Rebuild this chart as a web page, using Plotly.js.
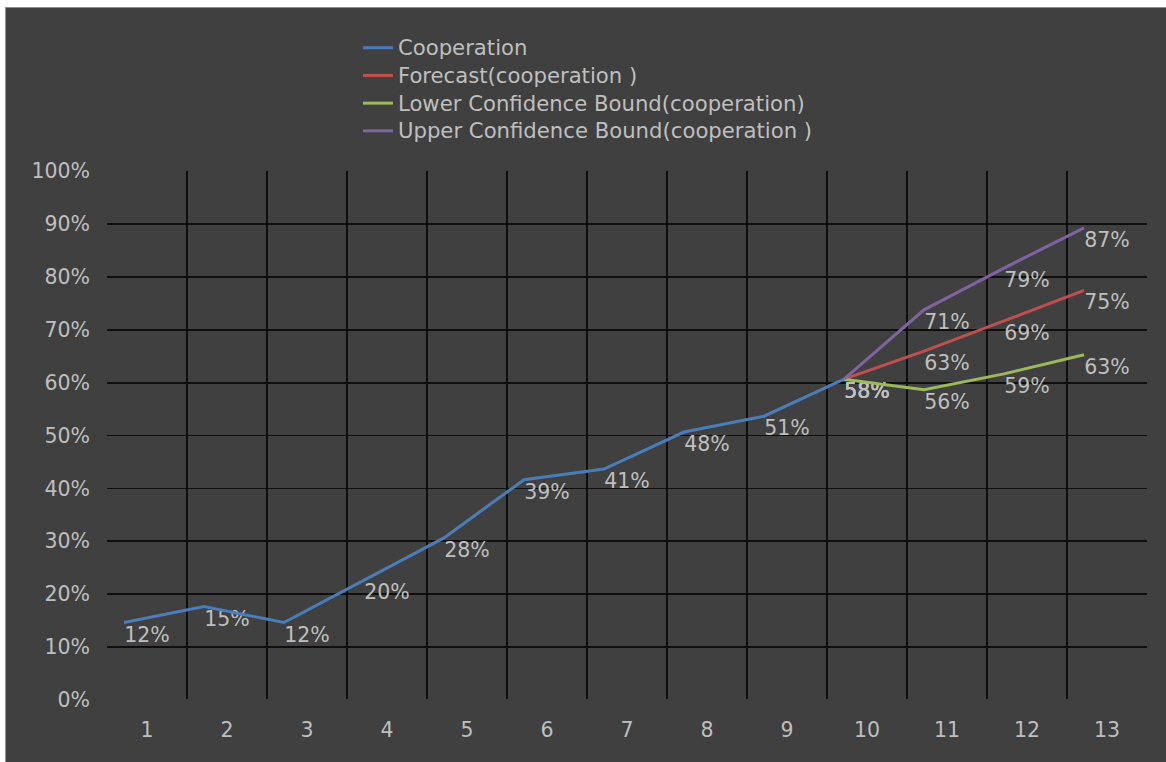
<!DOCTYPE html>
<html>
<head>
<meta charset="utf-8">
<script src="https://cdn.plot.ly/plotly-3.0.1.min.js"></script>
<style>
  html, body { margin: 0; padding: 0; background: #ffffff; }
  #frame { position: absolute; left: 5px; top: 7px; width: 1161px; height: 755px;
           border-left: 1px solid #8c8c8c; border-top: 1px solid #8c8c8c; background: #404040; }
  #chart { position: absolute; left: 0; top: 0; width: 1160px; height: 754px; }
</style>
</head>
<body>
<div id="frame"><div id="chart"></div></div>
<script>
// ---- data ----
const categories = [1, 2, 3, 4, 5, 6, 7, 8, 9, 10, 11, 12, 13];
const cooperation = [0.12, 0.15, 0.12, 0.20, 0.28, 0.39, 0.41, 0.48, 0.51, 0.58, null, null, null];
const forecast    = [null, null, null, null, null, null, null, null, null, 0.58, 0.633, 0.69, 0.748];
const lowerBound  = [null, null, null, null, null, null, null, null, null, 0.58, 0.56, 0.59, 0.626];
const upperBound  = [null, null, null, null, null, null, null, null, null, 0.58, 0.711, 0.79, 0.866];
const seriesNames = ['Cooperation', 'Forecast(cooperation )', 'Lower Confidence Bound(cooperation)', 'Upper Confidence Bound(cooperation )'];
const yTickVals = [0, 0.1, 0.2, 0.3, 0.4, 0.5, 0.6, 0.7, 0.8, 0.9, 1.0];
const yTickText = ['\u2007\u20070%', '\u200710%', '\u200720%', '\u200730%', '\u200740%', '\u200750%',
                   '\u200760%', '\u200770%', '\u200780%', '\u200790%', '100%'];
const xGridVals = [1.5, 2.5, 3.5, 4.5, 5.5, 6.5, 7.5, 8.5, 9.5, 10.5, 11.5, 12.5];

const colors = ['#4a7ebb', '#c0504d', '#9bbb59', '#8064a2'];
const textColor = '#bfbfbf';
const fontFamily = 'DejaVu Sans, Liberation Sans, Arial, sans-serif';

const allSeries = [cooperation, forecast, lowerBound, upperBound];

const traces = [];
// lines (drawn on the overlay axes, which are offset like the original)
allSeries.forEach((s, i) => {
  traces.push({
    x: categories, y: s, name: '<span style="font-size:21.2px">' + seriesNames[i] + '</span>',
    type: 'scatter', mode: 'lines',
    xaxis: 'x2', yaxis: 'y2',
    line: { color: colors[i], width: 3 },
    connectgaps: false, hoverinfo: 'skip'
  });
});
// data labels (centered on the values on the main axes)
allSeries.forEach((s, i) => {
  traces.push({
    x: categories, y: s, type: 'scatter', mode: 'text',
    texttemplate: '%{y:.0%}', textposition: 'middle center',
    textfont: { color: textColor, size: 20.5, family: fontFamily },
    showlegend: false, hoverinfo: 'skip'
  });
});

const layout = {
  width: 1160, height: 754,
  paper_bgcolor: '#404040', plot_bgcolor: '#404040',
  margin: { l: 101, r: 19, t: 163, b: 62, autoexpand: false },
  font: { family: fontFamily, color: textColor, size: 20.5 },
  showlegend: true,
  legend: {
    xref: 'container', yref: 'container',
    x: 0.3034, y: 0.9723, xanchor: 'left', yanchor: 'top',
    bgcolor: 'rgba(0,0,0,0)', font: { size: 19, color: textColor, family: fontFamily }
  },
  xaxis: {
    range: [0.5, 13.5], tickmode: 'array', tickvals: categories, ticktext: categories.map(String),
    showgrid: false, zeroline: false, showline: false, ticks: '',
    ticklabelstandoff: 15,
    minor: { tickmode: 'array', tickvals: xGridVals, showgrid: true, gridcolor: '#0f0f0f', gridwidth: 1.8, ticks: '' }
  },
  yaxis: {
    range: [0, 1], tickmode: 'array', tickvals: yTickVals, ticktext: yTickText,
    showgrid: true, gridcolor: '#0f0f0f', gridwidth: 1.8,
    zeroline: true, zerolinecolor: '#404040', zerolinewidth: 2,
    showline: false, ticks: '', ticklabelstandoff: 16
  },
  xaxis2: { overlaying: 'x', anchor: 'y2', range: [0.7875, 13.7875], visible: false, showgrid: false, zeroline: false },
  yaxis2: { overlaying: 'y', anchor: 'x2', range: [-0.0265, 0.9735], visible: false, showgrid: false, zeroline: false }
};

Plotly.newPlot('chart', traces, layout, { displayModeBar: false, staticPlot: true });
</script>
</body>
</html>
